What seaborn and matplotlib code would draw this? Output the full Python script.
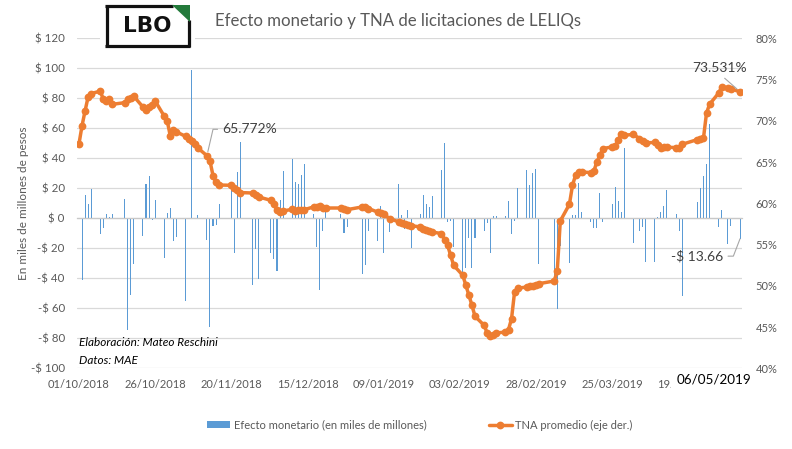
import numpy as np
import pandas as pd
import matplotlib
matplotlib.use("Agg")
import matplotlib.pyplot as plt
import matplotlib.dates as mdates
from matplotlib.patches import Rectangle, Polygon, Patch
from matplotlib.lines import Line2D
from matplotlib.ticker import FuncFormatter
import seaborn as sns

# ---------------- data ----------------
fechas = [
    "01/10/2018", "02/10/2018", "03/10/2018", "04/10/2018", "05/10/2018",
    "08/10/2018", "09/10/2018", "10/10/2018", "11/10/2018", "12/10/2018",
    "16/10/2018", "17/10/2018", "18/10/2018", "19/10/2018",
    "22/10/2018", "23/10/2018", "24/10/2018", "25/10/2018", "26/10/2018",
    "29/10/2018", "30/10/2018", "31/10/2018", "01/11/2018", "02/11/2018",
    "05/11/2018", "06/11/2018", "07/11/2018", "08/11/2018", "09/11/2018",
    "12/11/2018", "13/11/2018", "14/11/2018", "15/11/2018", "16/11/2018",
    "20/11/2018", "21/11/2018", "22/11/2018", "23/11/2018",
    "27/11/2018", "28/11/2018", "29/11/2018",
    "03/12/2018", "04/12/2018", "05/12/2018", "06/12/2018", "07/12/2018",
    "10/12/2018", "11/12/2018", "12/12/2018", "13/12/2018", "14/12/2018",
    "17/12/2018", "18/12/2018", "19/12/2018", "20/12/2018", "21/12/2018",
    "26/12/2018", "27/12/2018", "28/12/2018",
    "02/01/2019", "03/01/2019", "04/01/2019",
    "07/01/2019", "08/01/2019", "09/01/2019", "11/01/2019",
    "14/01/2019", "15/01/2019", "16/01/2019", "17/01/2019", "18/01/2019",
    "21/01/2019", "22/01/2019", "23/01/2019", "24/01/2019", "25/01/2019",
    "28/01/2019", "29/01/2019", "30/01/2019", "31/01/2019", "01/02/2019",
    "04/02/2019", "05/02/2019", "06/02/2019", "07/02/2019", "08/02/2019",
    "11/02/2019", "12/02/2019", "13/02/2019", "14/02/2019", "15/02/2019",
    "18/02/2019", "19/02/2019", "20/02/2019", "21/02/2019", "22/02/2019",
    "25/02/2019", "26/02/2019", "27/02/2019", "28/02/2019", "01/03/2019",
    "06/03/2019", "07/03/2019", "08/03/2019",
    "11/03/2019", "12/03/2019", "13/03/2019", "14/03/2019", "15/03/2019",
    "18/03/2019", "19/03/2019", "20/03/2019", "21/03/2019", "22/03/2019",
    "25/03/2019", "26/03/2019", "27/03/2019", "28/03/2019", "29/03/2019",
    "01/04/2019", "03/04/2019", "04/04/2019", "05/04/2019",
    "08/04/2019", "09/04/2019", "10/04/2019", "11/04/2019", "12/04/2019",
    "15/04/2019", "16/04/2019", "17/04/2019",
    "22/04/2019", "23/04/2019", "24/04/2019", "25/04/2019", "26/04/2019",
    "29/04/2019", "30/04/2019", "02/05/2019", "03/05/2019", "06/05/2019",
]

# Efecto monetario (miles de millones de pesos)
efecto = [
    0, -40.9, 15.3, 9.3, 19.3,
    -10.2, -6.4, 3.1, 0.9, 2.7,
    12.7, -74.2, -51.1, -30.2,
    -11.8, 22.7, 28.0, -1.3, 12.0,
    -26.4, 3.3, 6.7, -15.1, -12.4,
    -55.1, 0, 98.7, 0, 2.0,
    -14.7, -72.4, -5.1, -4.2, 9.3,
    18.7, -23.1, 30.7, 50.9,
    -44.2, -20.2, -40.2,
    -23.1, -27.1, -35.1, 12.4, 31.3,
    39.8, 24.0, 22.7, 28.7, 36.0,
    2.7, -19.1, -47.6, -8.4, 4.2,
    2.7, -9.8, -5.8,
    -36.9, -31.1, -8.4,
    -15.3, 8.0, -23.1, -9.1,
    22.7, 2.0, -6.9, 5.3, -19.8,
    3.1, 15.3, 9.8, 7.3, 14.7,
    32.0, 50.0, -2.4, -2.0, -19.1,
    -35.8, -33.1, -13.1, -33.1, -13.1,
    -8.4, -3.1, -23.1, 1.3, 1.3,
    1.3, 11.3, -10.2, -2.0, 20.0,
    32.0, 22.0, 30.0, 32.7, -30.4,
    -41.0, -60.2, -18.5,
    -29.6, 2.0, 2.0, 23.3, 4.0,
    -2.4, -6.4, -6.4, 16.7, -2.4,
    9.3, 20.7, 11.3, 4.0, 46.7,
    -16.4, -8.4, -5.8, -29.1,
    -29.1, 0.9, 4.2, 8.0, 18.7,
    2.7, -8.4, -51.8,
    10.7, 20.0, 28.0, 36.0, 62.7,
    -5.8, 5.3, -16.9, -5.1, -13.66,
]

# TNA promedio (%)
tna = [
    67.2, 69.4, 71.2, 72.9, 73.3,
    73.6, 72.6, 72.4, 72.6, 72.0,
    72.2, 72.6, 72.8, 72.97,
    71.67, 71.27, 71.67, 71.96, 72.4,
    70.55, 69.94, 68.12, 68.85, 68.65,
    68.12, 67.84, 67.52, 67.15, 66.71,
    65.772, 65.13, 63.36, 62.55, 62.22,
    62.18, 61.86, 61.58, 61.3,
    61.25, 60.97, 60.77,
    60.36, 59.96, 59.15, 58.95, 59.07,
    59.27, 59.07, 59.15, 59.15, 59.23,
    59.56, 59.56, 59.64, 59.48, 59.43,
    59.43, 59.27, 59.23,
    59.56, 59.52, 59.36,
    58.95, 58.83, 58.67, 58.15,
    57.74, 57.66, 57.54, 57.35, 57.3,
    57.13, 56.93, 56.73, 56.65, 56.52,
    56.33, 55.6, 54.91, 53.7, 52.48,
    51.27, 50.06, 48.85, 47.64, 46.3,
    45.21, 44.28, 43.88, 44.0, 44.28,
    44.4, 44.69, 46.02, 49.3, 49.7,
    49.86, 50.02, 49.94, 50.14, 50.26,
    50.58, 51.79, 57.86,
    59.88, 62.18, 63.39, 63.8, 63.8,
    63.72, 63.88, 65.01, 65.82, 66.63,
    66.83, 66.91, 67.64, 68.44, 68.24,
    68.36, 67.84, 67.55, 67.31,
    67.39, 67.03, 66.75, 66.8, 66.8,
    66.75, 66.75, 67.15,
    67.72, 67.84, 67.9, 70.95, 72.0,
    73.37, 74.1, 74.02, 73.85, 73.531,
]

tick_fechas = ["01/10/2018", "26/10/2018", "20/11/2018", "15/12/2018", "09/01/2019",
               "03/02/2019", "28/02/2019", "25/03/2019", "19/04/2019"]
left_ticks = [-100, -80, -60, -40, -20, 0, 20, 40, 60, 80, 100, 120]
right_ticks = [40, 45, 50, 55, 60, 65, 70, 75, 80]

titulo = "Efecto monetario y TNA de licitaciones de LELIQs"
serie_barras = "Efecto monetario (en miles de millones)"
serie_linea = "TNA promedio (eje der.)"

# ---------------- style ----------------
sns.set_style("white")
plt.rcParams["font.family"] = ["Lato", "DejaVu Sans"]

BLUE = "#5B9BD5"
ORANGE = "#ED7D31"
GRID = "#D9D9D9"
TXT = "#595959"

W, H = 792, 449


def fx(x):
    return x / W


def fy(y):
    return 1 - y / H


df = pd.DataFrame({
    "fecha": pd.to_datetime(fechas, format="%d/%m/%Y"),
    "efecto": efecto,
    "tna": tna,
})
df["x"] = mdates.date2num(df["fecha"])
ticks_x = mdates.date2num(pd.to_datetime(tick_fechas, format="%d/%m/%Y"))
x_first = df["x"].iloc[0]
x_last = df["x"].iloc[-1]

fig = plt.figure(figsize=(W / 100, H / 100), dpi=100)
ax = fig.add_axes([fx(77.3), fy(368.3), (741.7 - 77.3) / W, 330 / H])
ax2 = ax.twinx()

# bars
sns.barplot(data=df, x="x", y="efecto", ax=ax, native_scale=True, width=0.34,
            color=BLUE, saturation=1, errorbar=None, linewidth=0)
for p in ax.patches:
    p.set_antialiased(False)
ax.set_ylim(-100, 120)
ax.set_xlim(x_first - 0.55, x_last + 0.55)
ax.set_yticks(left_ticks)
ax.yaxis.set_major_formatter(FuncFormatter(
    lambda v, p: f"$ {int(v)}" if v >= 0 else f"-$ {int(abs(v))}"))
ax.yaxis.grid(True, color=GRID, linewidth=0.9)
ax.set_axisbelow(True)
ax.tick_params(axis="y", length=0, labelsize=8.3, colors=TXT, pad=9)
for s in ["left", "right", "top"]:
    ax.spines[s].set_visible(False)
ax.spines["bottom"].set_position(("data", 0))
ax.spines["bottom"].set_color("#C8C8C8")
ax.spines["bottom"].set_linewidth(0.9)
ax.set_xticks(ticks_x)
ax.tick_params(axis="x", direction="out", length=3.5, width=0.8, color="#BFBFBF",
               labelbottom=False)
ax.set_xlabel("")
ax.set_ylabel("")

sec = ax.secondary_xaxis("bottom")
sec.set_xticks(ticks_x, [d for d in tick_fechas])
sec.tick_params(length=0, labelsize=8, colors=TXT, pad=8)
sec.spines["bottom"].set_visible(False)

# line
sns.lineplot(data=df, x="x", y="tna", ax=ax2, color=ORANGE, linewidth=2.5,
             marker="o", markersize=5.6, markeredgewidth=0, legend=False)
ax2.set_ylim(40, 80)
ax2.set_yticks(right_ticks)
ax2.yaxis.set_major_formatter(FuncFormatter(lambda v, p: f"{int(v)}%"))
ax2.tick_params(axis="y", length=0, labelsize=8, colors=TXT, pad=10)
for s in ax2.spines.values():
    s.set_visible(False)
ax2.set_ylabel("")
ax2.set_xlabel("")
ax2.set_xlim(ax.get_xlim())

# data labels
lead = dict(arrowstyle="-", color="#A6A6A6", lw=0.8, shrinkA=1, shrinkB=3)
i_lbl = tna.index(65.772)
ax2.annotate("65.772%", xy=(df["x"].iloc[i_lbl], tna[i_lbl]), xytext=(11, 19),
             textcoords="offset points", ha="left", va="center", fontsize=10,
             color="#404040",
             arrowprops=dict(lead, relpos=(0, 0.5),
                             connectionstyle="angle,angleA=0,angleB=77,rad=0"))
ax2.annotate(f"{tna[-1]:.3f}%", xy=(x_last, tna[-1]), xytext=(-14.5, 17),
             textcoords="offset points", ha="center", va="center", fontsize=10,
             color="#404040",
             arrowprops=dict(lead, relpos=(0.5, 0)))
ax.annotate(f"-$ {abs(efecto[-1]):.2f}", xy=(x_last, efecto[-1]), xytext=(-12, -12.5),
            textcoords="offset points", ha="right", va="center", fontsize=10,
            color="#404040",
            arrowprops=dict(lead, relpos=(1, 0.5), shrinkB=0,
                            connectionstyle="angle,angleA=0,angleB=69,rad=0"))

# texts
fig.text(fx(398), fy(21), titulo, ha="center", va="center", fontsize=12.1, color=TXT)
fig.text(fx(24), fy(203), "En miles de millones de pesos", rotation=90,
         ha="center", va="center", fontsize=8.5, color=TXT)
fig.text(fx(79), fy(343), "Elaboración: Mateo Reschini", ha="left", va="center",
         fontsize=8.5, style="italic", color="black")
fig.text(fx(79), fy(360), "Datos: MAE", ha="left", va="center",
         fontsize=8.5, style="italic", color="black")

# date overlay (covers most of the last axis label, as in the original)
fig.add_artist(Rectangle((fx(671), fy(390)), (752 - 671) / W, 20 / H,
                         transform=fig.transFigure, facecolor="white",
                         edgecolor="none", zorder=10))
fig.text(fx(714), fy(380), "06/05/2019", ha="center", va="center",
         fontsize=9.7, color="black", zorder=11)

# logo
fig.add_artist(Rectangle((fx(100), fy(50)), 95 / W, 48 / H, transform=fig.transFigure,
                         facecolor="white", edgecolor="none", zorder=10))
lw_logo = 2.3
for (x0, y0, x1, y1) in [(105, 6, 173, 6), (106.5, 5, 106.5, 47),
                         (105, 45.5, 190, 45.5), (188.5, 20, 188.5, 47)]:
    fig.add_artist(Line2D([fx(x0), fx(x1)], [fy(y0), fy(y1)], transform=fig.transFigure,
                          color="#111111", linewidth=lw_logo, solid_capstyle="butt",
                          zorder=11))
fig.add_artist(Polygon([(fx(172), fy(4.8)), (fx(190), fy(4.8)), (fx(190), fy(22))],
                       closed=True, transform=fig.transFigure, facecolor="#237A3B",
                       edgecolor="none", zorder=11))
fig.text(fx(147), fy(26), "LBO", ha="center", va="center", fontsize=15.5,
         fontweight="bold", family="DejaVu Sans", color="#111111", zorder=12)

# legend
handles = [Patch(facecolor=BLUE, edgecolor="none"),
           Line2D([], [], color=ORANGE, linewidth=2.5, marker="o", markersize=5.6,
                  markeredgewidth=0)]
leg = fig.legend(handles, [serie_barras, serie_linea], loc="center",
                 bbox_to_anchor=(fx(420), fy(425)), ncol=2, frameon=False,
                 fontsize=8, handlelength=2.1, handleheight=0.6, handletextpad=0.3,
                 columnspacing=5.6)
for t in leg.get_texts():
    t.set_color(TXT)

fig.savefig("out.png", dpi=100, facecolor="white")
